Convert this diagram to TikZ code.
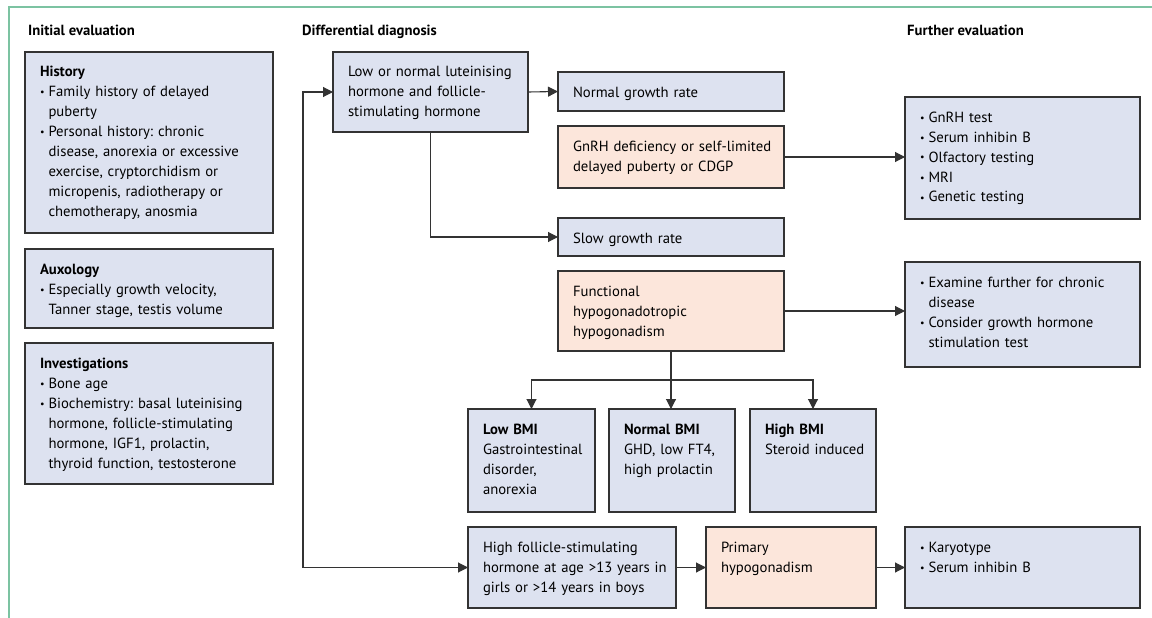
\documentclass[tikz,border=0pt]{standalone}
\usepackage{fontspec}
\setmainfont{PT Sans}
\usetikzlibrary{arrows.meta,calc}

\definecolor{boxblue}{HTML}{DDE2F0}
\definecolor{boxpeach}{HTML}{FCE6DB}
\definecolor{linegray}{HTML}{333333}
\definecolor{framegreen}{HTML}{7CC3A2}

\frenchspacing
\newcommand{\bodyfont}{\fontsize{14.7}{20}\selectfont}
\newcommand{\bul}{\makebox[8.5pt][l]{\raisebox{1pt}{\fontsize{10}{10}\selectfont •}}}
\newcommand{\itm}{\par\bul}
\newcommand{\cont}{\par\hspace*{8.5pt}}

\begin{document}
\begin{tikzpicture}[x=1pt, y=-1pt, font=\bodyfont,
  box/.style 2 args={draw=linegray, line width=1.1pt, fill=boxblue, anchor=north west,
    inner sep=0pt, outer sep=0pt, text width=#1pt, text height=25pt, text depth=#2pt-25pt,
    align=left, execute at begin node={\leftskip=15pt\rightskip=0pt plus 3em\parindent=0pt}},
  dx/.style={fill=boxpeach},
  title/.style={anchor=base west, inner sep=0pt, font=\bodyfont\bfseries},
  arr/.style={draw=linegray, line width=1.1pt, -{Triangle[length=10pt,width=10pt]}}]
\useasboundingbox (0,0) rectangle (1152,618);
\draw[framegreen, line width=1.5pt] (9,618) -- (9,7) -- (1152,7);

% column titles
\node[title] (tinit) at (28,36) {Initial evaluation};
\node[title] (tdiff) at (302,36) {Differential diagnosis};
\node[title] (tfurther) at (907,36) {Further evaluation};

% initial evaluation
\node[box={248}{181}] (hist) at (25,52) {\textbf{History}\itm Family history of delayed\cont puberty\itm Personal history: chronic\cont disease, anorexia or excessive\cont exercise, cryptorchidism or\cont micropenis, radiotherapy or\cont chemotherapy, anosmia};
\node[box={248}{79}] (auxo) at (25,249) {\textbf{Auxology}\itm Especially growth velocity,\cont Tanner stage, testis volume};
\node[box={248}{141}] (invest) at (25,343) {\textbf{Investigations}\itm Bone age\itm Biochemistry: basal luteinising\cont hormone, follicle-stimulating\cont hormone, IGF1, prolactin,\cont thyroid function, testosterone};

% differential diagnosis
\node[box={195}{80}] (lownormal) at (333,52) {Low or normal luteinising\par hormone and follicle-\par stimulating hormone};
\node[box={226}{39}] (normgr) at (558,72) {Normal growth rate};
\node[box={226}{62}, dx] (gnrh) at (558,126) {GnRH deficiency or self-limited\par delayed puberty or CDGP};
\node[box={226}{38}] (slowgr) at (558,218) {Slow growth rate};
\node[box={226}{80}, dx] (funchh) at (558,271) {Functional\par hypogonadotropic\par hypogonadism};
\node[box={127}{103}] (lowbmi) at (468,409) {\textbf{Low BMI}\par Gastrointestinal\par disorder,\par anorexia};
\node[box={126}{103}] (normbmi) at (609,409) {\textbf{Normal BMI}\par GHD, low FT4,\par high prolactin};
\node[box={126}{103}] (highbmi) at (750,409) {\textbf{High BMI}\par Steroid induced};
\node[box={208}{81}] (highfsh) at (468,527) {High follicle-stimulating\par hormone at age >13 years in\par girls or >14 years in boys};
\node[box={170}{81}, dx] (primary) at (706,527) {Primary\par hypogonadism};

% further evaluation
\node[box={235}{122}] (gnrhtests) at (905,97) {\bul GnRH test\itm Serum inhibin B\itm Olfactory testing\itm MRI\itm Genetic testing};
\node[box={235}{105}] (examine) at (905,262) {\bul Examine further for chronic\cont disease\itm Consider growth hormone\cont stimulation test};
\node[box={235}{81}] (karyo) at (905,527) {\bul Karyotype\itm Serum inhibin B};

% connectors
\coordinate (back) at (303,330);
\coordinate (split) at ($(funchh.south)+(0,29)$);
\draw[arr] (back) |- (lownormal.west);
\draw[arr] (back) |- (highfsh.west);
\draw[arr] (lownormal.east) -- (normgr.west);
\draw[arr] (lownormal.south) |- (slowgr.west);
\draw[arr] (gnrh.east) -- (gnrh.east -| gnrhtests.west);
\draw[arr] (funchh.east) -- (funchh.east -| examine.west);
\draw[arr] (funchh.south) -- (funchh.south |- normbmi.north);
\draw[arr] (split) -| (lowbmi.north);
\draw[arr] (split) -| (highbmi.north);
\draw[arr] (highfsh.east) -- (primary.west);
\draw[arr] (primary.east) -- (karyo.west);
\end{tikzpicture}
\end{document}
